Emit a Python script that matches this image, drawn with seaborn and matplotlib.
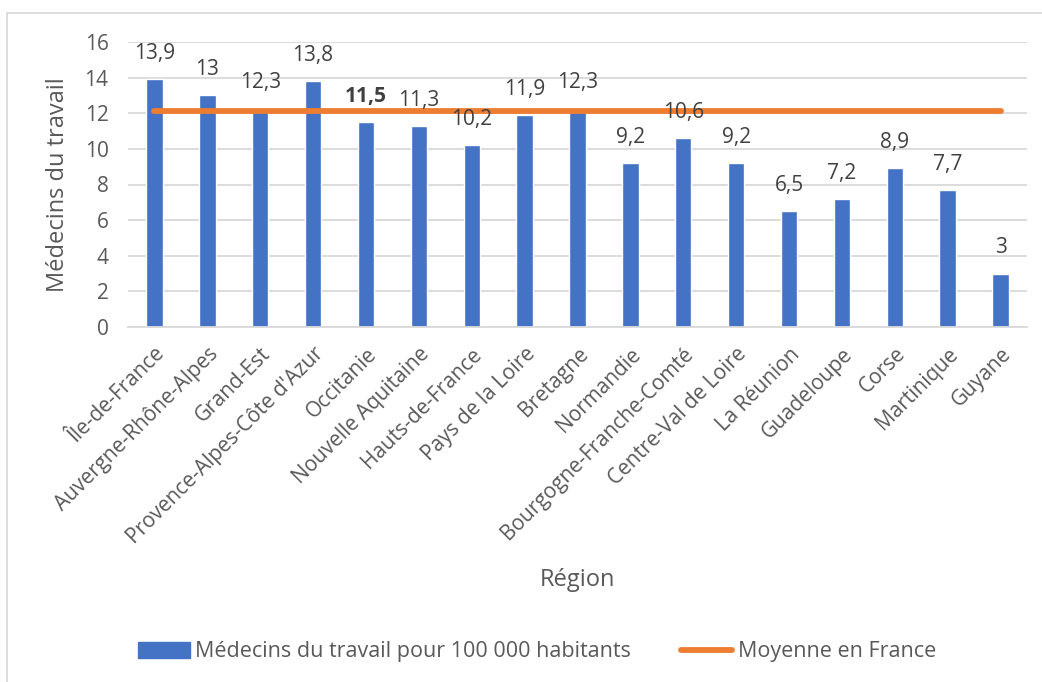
import numpy as np
import matplotlib
matplotlib.use("Agg")
import matplotlib.pyplot as plt
import seaborn as sns
from matplotlib.patches import Patch
from matplotlib.lines import Line2D

regions = ["Île-de-France", "Auvergne-Rhône-Alpes", "Grand-Est", "Provence-Alpes-Côte d'Azur",
           "Occitanie", "Nouvelle Aquitaine", "Hauts-de-France", "Pays de la Loire", "Bretagne",
           "Normandie", "Bourgogne-Franche-Comté", "Centre-Val de Loire", "La Réunion",
           "Guadeloupe", "Corse", "Martinique", "Guyane"]
values = [13.9, 13, 12.3, 13.8, 11.5, 11.3, 10.2, 11.9, 12.3, 9.2, 10.6, 9.2, 6.5, 7.2, 8.9, 7.7, 3]
mean_france = 12.1
bold_region = "Occitanie"
yticks = [0, 2, 4, 6, 8, 10, 12, 14, 16]

bar_label = "Médecins du travail pour 100 000 habitants"
line_label = "Moyenne en France"
ylabel = "Médecins du travail"
xlabel = "Région"

BLUE = "#4472C4"
ORANGE = "#ED7D31"
GRID = "#D9D9D9"
TXT = "#595959"
LBL = "#404040"

sns.set_theme(style="white")
plt.rcParams["font.family"] = ["Open Sans", "DejaVu Sans"]

fig = plt.figure(figsize=(10.42, 6.82), dpi=100)
ax = fig.add_axes([128/1042, 1-327/682, (1027-128)/1042, (327-42)/682])

sns.barplot(x=regions, y=values, color=BLUE, width=0.31, saturation=1, ax=ax, zorder=2)
pos = np.arange(len(regions))
sns.lineplot(x=pos, y=np.full(len(regions), mean_france), color=ORANGE, lw=4.2,
             ax=ax, zorder=3, solid_capstyle="round")

ax.set_xlim(-0.5, len(regions) - 0.5)
ax.set_ylim(0, 16)
ax.set_yticks(yticks)
ax.set_yticklabels([str(t) for t in yticks], fontsize=15, color=TXT)
ax.yaxis.grid(True, color=GRID, lw=1.3, zorder=0)
ax.set_axisbelow(True)
for s in ["top", "right", "left"]:
    ax.spines[s].set_visible(False)
ax.spines["bottom"].set_color(GRID)
ax.spines["bottom"].set_linewidth(1.3)
ax.tick_params(axis="both", length=0)
ax.tick_params(axis="y", pad=14)
ax.tick_params(axis="x", pad=12)

ax.set_xticks(pos)
ax.set_xticklabels(regions, rotation=45, ha="right", rotation_mode="anchor",
                   fontsize=15, color=TXT)

for p, v, r in zip(pos, values, regions):
    txt = f"{v:g}".replace(".", ",")
    ax.annotate(txt, (p, v), xytext=(0, 18.5), textcoords="offset points",
                ha="center", va="center", fontsize=15, color=LBL,
                fontweight="bold" if r == bold_region else "normal")

ax.set_ylabel(ylabel, fontsize=17, color=TXT)
ax.yaxis.set_label_coords((58-128)/899, 0.5)
ax.yaxis.label.set_va("center")
ax.set_xlabel(xlabel, fontsize=17, color=TXT)
ax.xaxis.set_label_coords(0.5, (327-580)/285)
ax.xaxis.label.set_va("center")

handles = [Patch(facecolor=BLUE, edgecolor=BLUE, label=bar_label),
           Line2D([0], [0], color=ORANGE, lw=4.2, solid_capstyle="round", label=line_label)]
leg = fig.legend(handles=handles, loc="center", bbox_to_anchor=(537/1042, 1-652/682),
                 ncol=2, frameon=False, fontsize=15.5, handlelength=2.4,
                 handletextpad=0.25, columnspacing=2.3)
for t in leg.get_texts():
    t.set_color(TXT)

# outer border (top and left visible)
fig.add_artist(Line2D([7/1042, 1], [1-13/682, 1-13/682], color=GRID, lw=1.3,
                      transform=fig.transFigure))
fig.add_artist(Line2D([7/1042, 7/1042], [0, 1-13/682], color=GRID, lw=1.3,
                      transform=fig.transFigure))

fig.savefig("out.png", dpi=100)
